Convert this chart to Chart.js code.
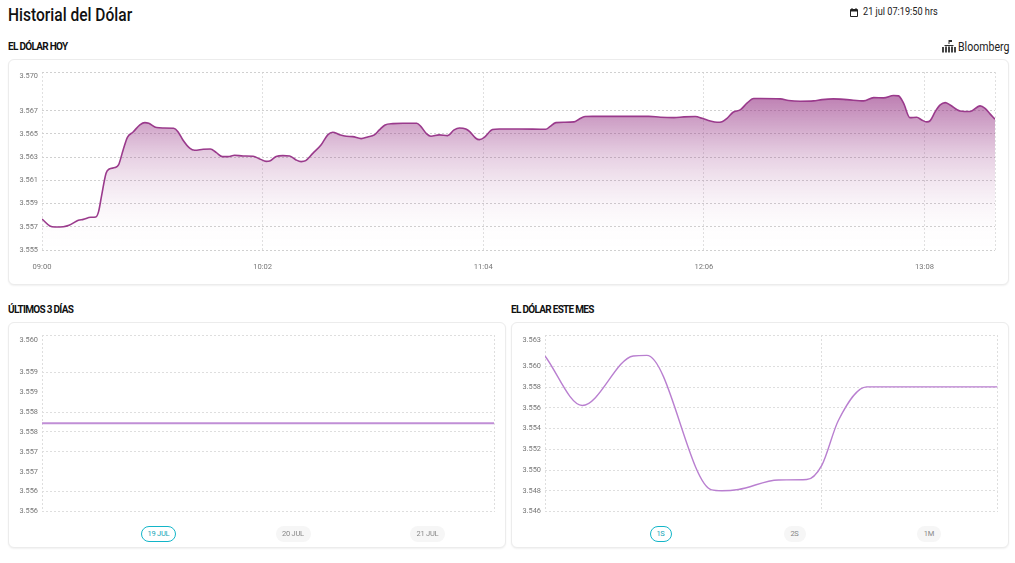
<!DOCTYPE html>
<html lang="es">
<head>
<meta charset="utf-8">
<title>Historial del Dólar</title>
<script src="https://cdn.jsdelivr.net/npm/chart.js@4"></script>
<style>
html,body{margin:0;padding:0;background:#fff;width:1015px;height:563px;overflow:hidden;font-family:Roboto,sans-serif;color:#111}
.abs{position:absolute;white-space:nowrap;transform-origin:left center}
h1{position:absolute;left:8px;top:4px;margin:0;font-size:18.5px;line-height:22px;font-weight:500;color:#111;transform:scaleX(.84);transform-origin:left center;white-space:nowrap}
h2{position:absolute;margin:0;font-size:10px;line-height:12px;font-weight:700;letter-spacing:-.7px;color:#111;white-space:nowrap}
.card{position:absolute;background:#fff;border:1px solid #ececec;border-radius:6px;box-shadow:0 1px 2px rgba(0,0,0,.06);box-sizing:border-box}
canvas{position:absolute;left:0;top:0}
.pill{position:absolute;top:526px;height:16px;line-height:16px;box-sizing:border-box;border-radius:8px;background:#f6f6f6;color:#888;font-size:7.5px;letter-spacing:-.25px;text-align:center;font-weight:400}
.pill.on{background:#fff;border:1.2px solid #13b5c8;color:#13a5b8;line-height:13.6px}
</style>
</head>
<body>
<h1>Historial del Dólar</h1>
<svg class="abs" style="left:850px;top:8px" width="8" height="9" viewBox="0 0 8 9"><path d="M1 1h6a1 1 0 0 1 1 1v6a1 1 0 0 1-1 1H1a1 1 0 0 1-1-1V2a1 1 0 0 1 1-1zm0 2.5V8h6V3.5z" fill="#222"/><rect x="1.5" y="0" width="1" height="2" fill="#222"/><rect x="5.5" y="0" width="1" height="2" fill="#222"/></svg>
<div class="abs" style="left:862.5px;top:5px;font-size:10px;line-height:14px;color:#222;transform:scaleX(.915)">21 jul 07:19:50 hrs</div>
<h2 style="left:8px;top:41px">EL DÓLAR HOY</h2>
<svg class="abs" style="left:942px;top:39px" width="14" height="14" viewBox="0 0 14 14"><rect x="6.5" y="1" width="1" height="4" fill="#333"/><rect x="7" y="1" width="3" height="2" fill="#333"/><path d="M3 6h8l1 1H2z" fill="#333"/><rect x="0" y="8" width="2" height="5.5" fill="#444"/><rect x="3" y="7.5" width="2" height="6" fill="#444"/><rect x="6" y="7.5" width="2" height="6" fill="#444"/><rect x="9" y="7.5" width="2" height="6" fill="#444"/><rect x="12" y="8" width="2" height="5.5" fill="#444"/></svg>
<div class="abs" style="left:958px;top:40px;font-size:12px;line-height:14px;color:#222;transform:scaleX(.88)">Bloomberg</div>
<div class="card" style="left:8px;top:59px;width:1001px;height:226px"><canvas id="hoy"></canvas></div>
<h2 style="left:8px;top:304px">ÚLTIMOS 3 DÍAS</h2>
<div class="card" style="left:8px;top:322px;width:498px;height:226px"><canvas id="dias"></canvas></div>
<div class="pill on" style="left:141px;width:35px">19 JUL</div>
<div class="pill" style="left:275.5px;width:35px">20 JUL</div>
<div class="pill" style="left:410px;width:35px">21 JUL</div>
<h2 style="left:511px;top:304px">EL DÓLAR ESTE MES</h2>
<div class="card" style="left:511px;top:322px;width:498px;height:226px"><canvas id="mes"></canvas></div>
<div class="pill on" style="left:649.5px;width:22px">1S</div>
<div class="pill" style="left:783.5px;width:22px">2S</div>
<div class="pill" style="left:917px;width:24px">1M</div>
<script>
// EL DÓLAR HOY: minutes after 09:00 and quote
const hoyMin = [0,2.2,3.6,6,7.6,10.2,11.6,13.7,15.1,15.9,16.7,18,18.9,20.5,21.5,22.8,24,25.6,27.5,28.9,30,32.2,34,37,38.2,39.6,41.5,42.9,45.3,47.3,49,50.7,52.3,54.1,56.5,59.3,61.2,63,64,65.8,67.7,69.6,71.4,72.8,74.1,76.1,78.4,80.3,81.7,83.6,85.5,87.3,89.7,91.5,93.4,94.8,96.4,98.6,101.4,105.3,106.5,108.1,109.3,111.6,114,115.8,117.3,119.1,120.2,121.9,122.9,124.3,126.6,128.5,134.1,141.6,142.7,144.4,146.7,149.5,150.9,152.6,154.7,163.1,170.5,173.8,177.6,180.4,183.6,185.5,187.8,189.7,191.1,192.5,194.2,196.3,198.1,200,201.9,207.5,209.8,213.1,216.8,219.2,222.4,226.2,230.9,233.7,236.5,239.3,240.7,242.1,243.9,245.8,247.2,248.6,249.6,251,252.4,253.8,255.2,258,260.8,263.6,265,266.4,267.8];
const hoyVal = [3.55767,3.55707,3.55698,3.55701,3.55713,3.55756,3.55764,3.55782,3.55785,3.55831,3.5596,3.56161,3.56198,3.5621,3.56233,3.56362,3.56471,3.56517,3.56578,3.56598,3.56592,3.56555,3.56552,3.56549,3.5652,3.56448,3.56377,3.56359,3.56368,3.56371,3.56339,3.56305,3.56305,3.56316,3.5631,3.56308,3.56285,3.56264,3.56267,3.56305,3.56313,3.5631,3.56276,3.56262,3.5627,3.56333,3.56405,3.56492,3.56515,3.56494,3.5648,3.56477,3.5646,3.56474,3.56492,3.56535,3.56578,3.56589,3.56592,3.56592,3.56563,3.565,3.5648,3.56492,3.56486,3.56535,3.56552,3.56543,3.5652,3.56463,3.56451,3.56471,3.56538,3.56543,3.56543,3.5654,3.56563,3.56598,3.56601,3.56604,3.56627,3.5665,3.56652,3.56652,3.56652,3.56644,3.56641,3.56647,3.5665,3.56635,3.56612,3.56601,3.56606,3.56635,3.56687,3.5671,3.56765,3.56805,3.56805,3.56802,3.56788,3.56782,3.56785,3.56796,3.56802,3.56796,3.56785,3.56813,3.56811,3.56831,3.56828,3.56765,3.56641,3.56644,3.56621,3.56604,3.56615,3.56693,3.5675,3.5677,3.5675,3.56698,3.56693,3.56742,3.56721,3.56673,3.56627];
const hoyXTicks = [0,62,124,186,248,267.8];
const hoyXLabels = ['09:00','10:02','11:04','12:06','13:08',''];
const hoyYTicks = [3.555,3.557,3.559,3.561,3.563,3.565,3.567,3.57,3.57034];
const hoyYLabels = ['3.555','3.557','3.559','3.561','3.563','3.565','3.567','3.570',''];
const hoyNoGrid = [3.57];

// ÚLTIMOS 3 DÍAS
const diasX = [0,0.5,1];
const diasVal = [3.55772,3.55772,3.55772];
const diasXTicks = [0,1];
const diasYTicks = [3.5555,3.556,3.5565,3.557,3.5575,3.558,3.5585,3.559,3.55981,3.55994];
const diasYLabels = ['3.556','3.556','3.557','3.557','3.558','3.558','3.559','3.559','3.560',''];
const diasNoGrid = [3.5565,3.5585,3.55981];

// EL DÓLAR ESTE MES
const mesX = [0,.99,2.34,2.7,4.42,4.69,5.13,6.19,6.94,7.34,7.78,8.53,12];
const mesVal = [3.561,3.55622,3.561,3.56106,3.54808,3.548,3.54812,3.54904,3.54908,3.55045,3.55478,3.55802,3.55802];
const mesXTicks = [0,7.34,12];
const mesYTicks = [3.546,3.548,3.55,3.552,3.554,3.556,3.558,3.56,3.56254,3.56302];
const mesYLabels = ['3.546','3.548','3.550','3.552','3.554','3.556','3.558','3.560','3.563',''];
const mesNoGrid = [3.56254];

// fill opacity down the main chart: [position in plot height, alpha]
const fillStops = [[0,.62],[.157,.58],[.348,.36],[.478,.22],[.607,.12],[.742,.05],[.871,.01],[1,0]];

Chart.defaults.font.family = 'Roboto, sans-serif';
Chart.defaults.animation = false;
const dash = [2, 2];

function build(id, w, h, cfg){
  const el = document.getElementById(id);
  el.style.width = w + 'px'; el.style.height = h + 'px';
  return new Chart(el, {
    type: 'line',
    data: { datasets: [{
      data: cfg.x.map((x, i) => ({ x, y: cfg.y[i] })),
      borderColor: cfg.color, borderWidth: cfg.width,
      pointRadius: 0, tension: cfg.tension,
      cubicInterpolationMode: cfg.mono ? 'monotone' : 'default',
      fill: cfg.gradient ? 'start' : false,
      backgroundColor: cfg.gradient ? (c) => {
        const a = c.chart.chartArea; if (!a) return 'transparent';
        const g = c.chart.ctx.createLinearGradient(0, a.top, 0, a.bottom);
        fillStops.forEach(s => g.addColorStop(s[0], 'rgba(146,44,128,' + s[1] + ')'));
        return g;
      } : 'transparent'
    }]},
    options: {
      responsive: false, devicePixelRatio: 1,
      layout: { padding: { left: 0, top: 12, right: cfg.right, bottom: 0 } },
      plugins: { legend: { display: false }, tooltip: { enabled: false } },
      scales: {
        x: {
          type: 'linear', min: cfg.xTicks[0], max: cfg.xTicks[cfg.xTicks.length - 1],
          afterBuildTicks: s => { s.ticks = cfg.xTicks.map(value => ({ value })); },
          afterFit: s => { s.height = cfg.bottom; },
          border: { display: false, dash },
          grid: { drawTicks: false, color: cfg.vGrid },
          ticks: { autoSkip: false, maxRotation: 0, padding: 13, color: '#777', font: { size: 7.6 },
            display: !!cfg.xLabels, callback: (v, i) => cfg.xLabels ? cfg.xLabels[i] : '' }
        },
        y: {
          type: 'linear', min: cfg.yTicks[0], max: cfg.yTicks[cfg.yTicks.length - 1],
          afterBuildTicks: s => { s.ticks = cfg.yTicks.map(value => ({ value })); },
          afterFit: s => { s.width = 33; },
          border: { display: false, dash },
          grid: { drawTicks: false,
            color: c => (c.tick && cfg.noGrid.includes(c.tick.value)) ? 'rgba(0,0,0,0)' : cfg.hGrid },
          ticks: { autoSkip: false, padding: 4, color: '#777', font: { size: 7.4 },
            callback: (v, i) => cfg.yLabels[i] }
        }
      }
    }
  });
}

build('hoy', 999, 224, { x: hoyMin, y: hoyVal, color: '#9a3a8c', width: 1.6, tension: .4, mono: true, gradient: true,
  right: 10, bottom: 34, vGrid: '#e0e0e0', hGrid: '#d0d0d0',
  xTicks: hoyXTicks, xLabels: hoyXLabels, yTicks: hoyYTicks, yLabels: hoyYLabels, noGrid: hoyNoGrid });
build('dias', 496, 224, { x: diasX, y: diasVal, color: '#c08ed6', width: 1.8, tension: 0, mono: false, gradient: false,
  right: 11, bottom: 35.5, vGrid: '#dedede', hGrid: '#dedede',
  xTicks: diasXTicks, xLabels: null, yTicks: diasYTicks, yLabels: diasYLabels, noGrid: diasNoGrid });
build('mes', 496, 224, { x: mesX, y: mesVal, color: '#b97fd0', width: 1.4, tension: .4, mono: true, gradient: false,
  right: 10.5, bottom: 35.5, vGrid: '#dedede', hGrid: '#dedede',
  xTicks: mesXTicks, xLabels: null, yTicks: mesYTicks, yLabels: mesYLabels, noGrid: mesNoGrid });
</script>
</body>
</html>
